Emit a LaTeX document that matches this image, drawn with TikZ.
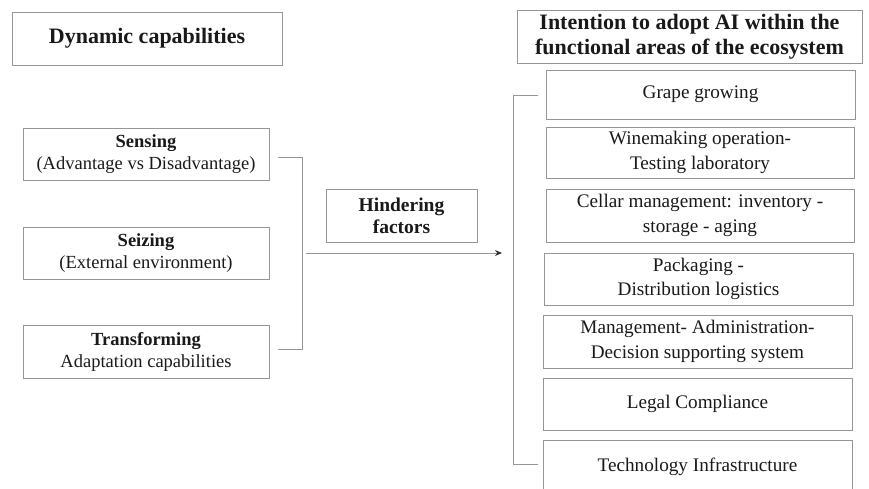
\documentclass[tikz,border=0pt]{standalone}
\usepackage{fontspec}
\setmainfont{Liberation Serif}
\usetikzlibrary{arrows.meta,calc}
\definecolor{boxline}{RGB}{150,150,150}
\definecolor{txt}{RGB}{25,25,25}
\tikzset{
  box/.style={draw=boxline, line width=0.9pt, rectangle, align=center, inner sep=0pt, text=txt,
    font=\fontsize{18.5}{22}\selectfont},
  rbox/.style={box, font=\fontsize{19.2}{24.5}\selectfont},
  hbox/.style={box, font=\fontsize{19.5}{22}\selectfont\bfseries},
  headbox/.style={box, font=\fontsize{22}{25}\selectfont\bfseries},
  conn/.style={draw=boxline, line width=0.9pt},
}
\begin{document}
\begin{tikzpicture}[x=1pt,y=-1pt]
\useasboundingbox (0,0) rectangle (869,489);
% left column
\node[headbox, minimum width=270, minimum height=53] (dyn) at (147,38.5) {Dynamic capabilities};
\node[box, minimum width=246, minimum height=52] (sens) at (146,154) {\textbf{Sensing}\\(Advantage vs Disadvantage)};
\node[box, minimum width=246, minimum height=52] (seiz) at (146,253) {\textbf{Seizing}\\(External environment)};
\node[box, minimum width=246, minimum height=53] (trans) at (146,351.5) {\textbf{Transforming}\\Adaptation capabilities};
% middle
\node[hbox, minimum width=151, minimum height=53] (hind) at (401.5,215.5) {Hindering\\factors};
% right column
\node[headbox, minimum width=345, minimum height=53] (title) at (689.5,36.5) {Intention to adopt AI within the\\functional areas of the ecosystem};
\node[rbox, minimum width=309, minimum height=49] (grape) at (700.5,94.5) {Grape growing};
\node[rbox, minimum width=308, minimum height=51] (wine) at (700,152.5) {Winemaking operation-\\Testing laboratory};
\node[rbox, minimum width=308, minimum height=53] (cellar) at (700,215.5) {Cellar management: inventory -\\storage - aging};
\node[rbox, minimum width=309, minimum height=52] (pack) at (698.5,279) {Packaging -\\Distribution logistics};
\node[rbox, minimum width=309, minimum height=53] (mgmt) at (697.5,341.5) {Management- Administration-\\Decision supporting system};
\node[rbox, minimum width=309, minimum height=52] (legal) at (697.5,404) {Legal Compliance};
\node[rbox, minimum width=309, minimum height=54] (tech) at (697.5,467) {Technology Infrastructure};
% left bracket
\coordinate (lbt) at ($(sens.east)+(9,3)$);
\coordinate (lbb) at ($(trans.east)+(9,-2.5)$);
\draw[conn] (lbt) -- (302,157) -- (302,349) -- (lbb);
% arrow
\coordinate (arrS) at (306,253);
\coordinate (arrE) at (502,253);
\draw[conn, -{Stealth[length=7pt,width=6pt,color=black!80]}] (arrS) -- (arrE);
% right bracket
\coordinate (rbt) at ($(grape.west)+(-8,0.5)$);
\coordinate (rbb) at ($(tech.west)+(-5,-3)$);
\draw[conn] (rbt) -- (513,95) -- (513,464) -- (rbb);
\end{tikzpicture}
\end{document}
